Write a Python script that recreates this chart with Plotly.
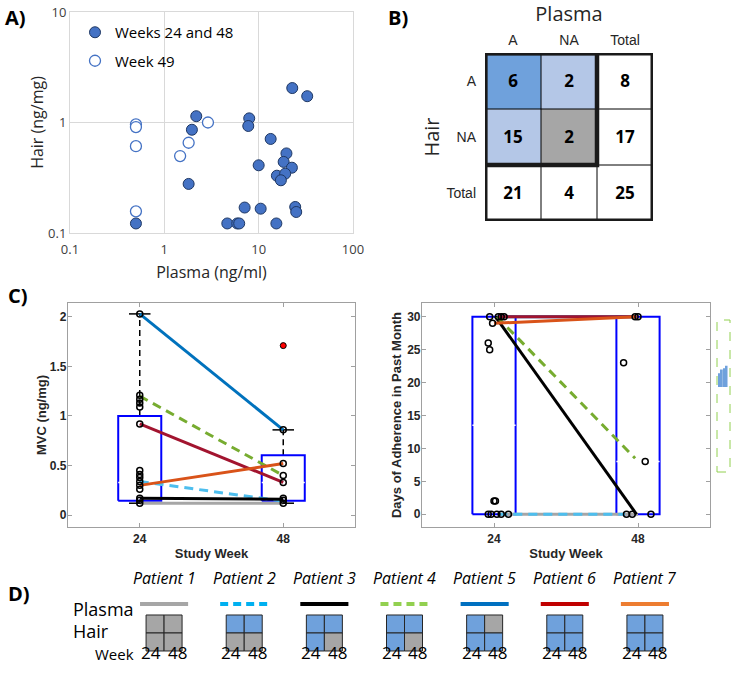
import plotly.graph_objects as go

W, H = 733, 673

# ---- A) plasma vs hair concentrations
plasma_wk24_48 = [22.7, 32.7, 2.18, 7.94, 7.76, 1.96, 13.4, 19.7, 18.4, 22.5, 10.0, 15.6,
                  19.1, 17.2, 1.81, 24.4, 25.0, 7.1, 10.5, 0.5, 4.65, 5.93, 6.22, 15.4]
hair_wk24_48 = [2.05, 1.73, 1.14, 1.09, 0.93, 0.86, 0.71, 0.525, 0.44, 0.39, 0.41, 0.33,
                0.344, 0.30, 0.278, 0.172, 0.155, 0.17, 0.166, 0.122, 0.122, 0.122, 0.122, 0.122]
plasma_wk49 = [0.5, 0.5, 0.5, 0.5, 2.9, 1.81, 1.47]
hair_wk49 = [0.96, 0.91, 0.61, 0.157, 1.0, 0.656, 0.497]
log_ticks = [0.1, 1, 10, 100]

# ---- B) adherence table (A = adherent, NA = non-adherent)
tbl_cols = ["A", "NA", "Total"]
tbl_rows = ["A", "NA", "Total"]
tbl_counts = [[6, 2, 8], [15, 2, 17], [21, 4, 25]]

# ---- C) MVC and days of adherence by study week
weeks = ["24", "48"]
mvc_wk24 = [2.03, 1.21, 1.17, 1.13, 1.09, 0.92, 0.45, 0.41, 0.38, 0.34, 0.30, 0.26, 0.17, 0.15, 0.12]
mvc_wk48 = [0.86, 0.52, 0.40, 0.33, 0.17, 0.15, 0.12]
mvc_outlier = [None, 1.71]
mvc_q1 = [0.145, 0.145]
mvc_med = [0.33, 0.33]
mvc_q3 = [1.0, 0.605]
mvc_lo = [0.12, 0.12]
mvc_hi = [2.03, 0.86]

days_wk24 = [30, 29, 26, 25, 2, 2, 0, 0, 0, 0, 0, 30, 30, 30]
days_jit24 = [-0.03, -0.01, -0.04, -0.03, 0.0, 0.01, -0.04, -0.02, 0.02, 0.05, 0.1, 0.03, 0.05, 0.07]
days_wk48 = [30, 30, 23, 8, 0, 0, 0]
days_jit48 = [-0.02, 0.0, -0.1, 0.05, -0.08, -0.04, 0.09]
days_q1 = [0, 0]
days_med = [13.5, 8]
days_q3 = [30, 30]

patients = ["Patient 1", "Patient 2", "Patient 3", "Patient 4", "Patient 5", "Patient 6", "Patient 7"]
mvc_pt24 = [0.12, 0.34, 0.17, 1.20, 2.03, 0.92, 0.30]
mvc_pt48 = [0.12, 0.14, 0.16, 0.40, 0.86, 0.33, 0.52]
days_pt24 = [0, 0, 30, 30, 30, 30, 29]
days_pt48 = [0, 0, 0, 8.5, 30, 30, 30]
days_ptx24 = [1.03, 1.03, 1.01, 1.02, 1.03, 1.03, 1.0]
days_ptx48 = [2.0, 1.91, 1.99, 1.98, 1.99, 1.99, 1.99]

# ---- D) adherence per patient, weeks 24 / 48
plasma_status = [["NA", "NA"], ["A", "A"], ["A", "A"], ["A", "A"], ["A", "NA"], ["A", "A"], ["A", "A"]]
hair_status = [["NA", "NA"], ["NA", "NA"], ["A", "NA"], ["A", "NA"], ["A", "A"], ["A", "A"], ["A", "A"]]

# small thumbnail at right edge
thumb_vals = [0.55, 0.7, 0.75, 0.85]

line_cols = ["#a6a6a6", "#4dbeee", "#000000", "#77ac30", "#0072bd", "#a2142f", "#d95319"]
swatch_cols = ["#a6a6a6", "#00b0f0", "#000000", "#92d050", "#0070c0", "#c00000", "#ed7d31"]
dashed = [False, True, False, True, False, False, False]
BLUE, LBLUE, GRAY = "#6fa1dc", "#b4c7e7", "#a6a6a6"
SANS = "Open Sans"
ARIAL = "Liberation Sans"


def px_x(a, b):
    return [a / W, b / W]


def px_y(top, bottom):
    return [1 - bottom / H, 1 - top / H]


fig = go.Figure()

# ===== A
fig.add_trace(go.Scatter(x=plasma_wk24_48, y=hair_wk24_48, mode="markers", name="Weeks 24 and 48",
                         legendgroup="a", xaxis="x", yaxis="y",
                         marker=dict(size=11, color="#4472c4", line=dict(color="#1f3864", width=1))))
fig.add_trace(go.Scatter(x=plasma_wk49, y=hair_wk49, mode="markers", name="Week 49",
                         legendgroup="b", xaxis="x", yaxis="y",
                         marker=dict(size=11, color="white", line=dict(color="#4472c4", width=1.3))))

# ===== B
def shade(r, c):
    if tbl_rows[r] == "Total" or tbl_cols[c] == "Total":
        return 0
    n_adh = (tbl_rows[r] == "A") + (tbl_cols[c] == "A")
    return {2: 2, 1: 1, 0: 3}[n_adh]


z = [[shade(r, c) for c in range(3)] for r in range(3)]
txt = [[str(v) for v in row] for row in tbl_counts]
fig.add_trace(go.Heatmap(z=z, x=[0, 1, 2], y=[0, 1, 2], text=txt, texttemplate="%{text}",
                         textfont=dict(family=SANS, size=17, color="black", weight="bold"),
                         colorscale=[[0, "white"], [1 / 3, LBLUE], [2 / 3, BLUE], [1, GRAY]],
                         zmin=0, zmax=3, showscale=False, hoverinfo="skip",
                         xaxis="x2", yaxis="y2"))
shapes = []
for k in [0.5, 1.5]:
    shapes.append(dict(type="line", xref="x2", yref="y2", x0=k, x1=k, y0=-0.5, y1=2.5,
                       line=dict(color="black", width=1)))
    shapes.append(dict(type="line", xref="x2", yref="y2", x0=-0.5, x1=2.5, y0=k, y1=k,
                       line=dict(color="black", width=1)))
shapes.append(dict(type="rect", xref="x2", yref="y2", x0=-0.5, x1=1.5, y0=-0.5, y1=1.5,
                   line=dict(color="#1a1a1a", width=4.5)))
shapes.append(dict(type="rect", xref="x2", yref="y2", x0=-0.5, x1=2.5, y0=-0.5, y1=2.5,
                   line=dict(color="#1a1a1a", width=5)))

# ===== C helpers
def add_box(ax, ay, pos, q1, med, q3, lo=None, hi=None, hw=0.15):
    xs = [pos - hw, pos + hw, pos + hw, pos - hw, pos - hw]
    ys = [q1, q1, q3, q3, q1]
    if lo is not None:
        for a, b in [(q3, hi), (lo, q1)]:
            fig.add_trace(go.Scatter(x=[pos, pos], y=[a, b], mode="lines", xaxis=ax, yaxis=ay,
                                     line=dict(color="black", width=1.5, dash="6px,4px"),
                                     showlegend=False, hoverinfo="skip"))
        for v in [lo, hi]:
            fig.add_trace(go.Scatter(x=[pos - hw / 2, pos + hw / 2], y=[v, v], mode="lines",
                                     xaxis=ax, yaxis=ay, line=dict(color="black", width=1.5),
                                     showlegend=False, hoverinfo="skip"))
    fig.add_trace(go.Scatter(x=xs, y=ys, mode="lines", xaxis=ax, yaxis=ay,
                             line=dict(color="#0000ff", width=2), showlegend=False, hoverinfo="skip"))
    fig.add_trace(go.Scatter(x=[pos - hw, pos + hw], y=[med, med], mode="lines", xaxis=ax, yaxis=ay,
                             line=dict(color="white", width=1.5), showlegend=False, hoverinfo="skip"))


circ = dict(symbol="circle-open", size=6, color="black", line=dict(width=1.5))

# C left
for i in range(2):
    add_box("x3", "y3", i + 1, mvc_q1[i], mvc_med[i], mvc_q3[i], mvc_lo[i], mvc_hi[i])
for p in range(7):
    fig.add_trace(go.Scatter(x=[1, 2], y=[mvc_pt24[p], mvc_pt48[p]], mode="lines", xaxis="x3", yaxis="y3",
                             line=dict(color=line_cols[p], width=3, dash="9px,6px" if dashed[p] else "solid"),
                             showlegend=False, hoverinfo="skip"))
fig.add_trace(go.Scatter(x=[1] * len(mvc_wk24) + [2] * len(mvc_wk48), y=mvc_wk24 + mvc_wk48,
                         mode="markers", marker=circ, xaxis="x3", yaxis="y3", showlegend=False))
fig.add_trace(go.Scatter(x=[1, 2], y=mvc_outlier, mode="markers", xaxis="x3", yaxis="y3", showlegend=False,
                         marker=dict(size=6, color="#ff0000", line=dict(color="black", width=1))))

# C right
for i in range(2):
    add_box("x4", "y4", i + 1, days_q1[i], days_med[i], days_q3[i])
for p in range(7):
    fig.add_trace(go.Scatter(x=[days_ptx24[p], days_ptx48[p]], y=[days_pt24[p], days_pt48[p]], mode="lines",
                             xaxis="x4", yaxis="y4",
                             line=dict(color=line_cols[p], width=3, dash="9px,6px" if dashed[p] else "solid"),
                             showlegend=False, hoverinfo="skip"))
fig.add_trace(go.Scatter(x=[1 + j for j in days_jit24] + [2 + j for j in days_jit48], y=days_wk24 + days_wk48,
                         mode="markers", marker=circ, xaxis="x4", yaxis="y4", showlegend=False))

# ===== D grids
px_per_unit = (685 - 124) / 7.0
off = 9 / px_per_unit
lab_off = 13 / px_per_unit
cx, cy, cc = [], [], []
for p in range(7):
    for row, status in [(1, plasma_status[p]), (0, hair_status[p])]:
        for k in range(2):
            cx.append(p + (off if k else -off))
            cy.append(row)
            cc.append(BLUE if status[k] == "A" else GRAY)
fig.add_trace(go.Scatter(x=cx, y=cy, mode="markers", xaxis="x5", yaxis="y5", showlegend=False,
                         hoverinfo="skip",
                         marker=dict(symbol="square", size=18, color=cc, line=dict(color="#262626", width=1))))
for p in range(7):
    fig.add_trace(go.Scatter(x=[p - 0.3, p + 0.3], y=[2.11, 2.11], mode="lines", xaxis="x5", yaxis="y5",
                             showlegend=False, hoverinfo="skip",
                             line=dict(color=swatch_cols[p], width=4, dash="8px,5px" if dashed[p] else "solid")))

# thumbnail
fig.add_trace(go.Bar(x=[0, 1, 2, 3], y=thumb_vals, xaxis="x6", yaxis="y6", showlegend=False,
                     marker=dict(color="#6fa1dc", line=dict(width=0)), hoverinfo="skip"))
shapes.append(dict(type="rect", xref="paper", yref="paper", x0=717 / W, x1=730 / W,
                   y0=1 - 472 / H, y1=1 - 320 / H, line=dict(color="#92d050", width=1, dash="dash")))

# ===== annotations
ann = []
for lab, x, y in [("A)", 3, 17), ("B)", 386, 17), ("C)", 6, 295), ("D)", 6, 593)]:
    ann.append(dict(text=lab, x=x / W, y=1 - y / H, xref="paper", yref="paper", xanchor="left",
                    yanchor="middle", showarrow=False, font=dict(family=SANS, size=20, color="black", weight="bold")))
for p in range(7):
    ann.append(dict(text="<i>" + patients[p] + "</i>", x=p, y=1 - 591 / H, xref="x5", yref="paper",
                    showarrow=False, font=dict(family=SANS, size=16, color="black")))
    for k in range(2):
        ann.append(dict(text=weeks[k], x=p + (lab_off if k else -lab_off), y=1 - 666 / H, xref="x5",
                        yref="paper", showarrow=False, font=dict(family=SANS, size=17, color="black")))
ann.append(dict(text="Plasma", x=71 / W, y=1 - 623 / H, xref="paper", yref="paper", xanchor="left",
                showarrow=False, font=dict(family=SANS, size=18, color="black")))
ann.append(dict(text="Hair", x=71 / W, y=1 - 645 / H, xref="paper", yref="paper", xanchor="left",
                showarrow=False, font=dict(family=SANS, size=18, color="black")))
ann.append(dict(text="Week", x=136 / W, y=1 - 666 / H, xref="paper", yref="paper", xanchor="right",
                showarrow=False, font=dict(family=SANS, size=15, color="black")))

ctick = dict(family=ARIAL, size=12, color="#262626", weight="bold")
cax = dict(showline=True, linecolor="#a0a0a0", linewidth=1.2, mirror="ticks", ticks="inside",
           ticklen=4, tickcolor="#a0a0a0", showgrid=False, zeroline=False, tickfont=ctick, automargin=False)
ctitle = dict(family=ARIAL, size=13, color="#262626", weight="bold")

fig.update_layout(
    width=W, height=H, margin=dict(l=0, r=0, t=0, b=0, autoexpand=False),
    paper_bgcolor="white", plot_bgcolor="white",
    font=dict(family=SANS, color="#262626"),
    shapes=shapes, annotations=ann,
    legend=dict(x=75 / W, y=1 - 16 / H, xanchor="left", yanchor="top", bgcolor="rgba(0,0,0,0)",
                font=dict(family=SANS, size=15, color="black"), traceorder="grouped", tracegroupgap=6),
    xaxis=dict(domain=px_x(70, 353), anchor="y", type="log", range=[-1, 2], tickvals=log_ticks,
               ticktext=["0.1", "1", "10", "100"], showgrid=True, gridcolor="#d9d9d9", showline=True,
               linecolor="#d9d9d9", mirror=True, zeroline=False, tickfont=dict(size=13, color="#404040"),
               automargin=False, ticklabelstandoff=4,
               title=dict(text="Plasma (ng/ml)", font=dict(size=16, color="#262626"), standoff=10)),
    yaxis=dict(domain=px_y(12, 233), anchor="x", type="log", range=[-1, 1], tickvals=log_ticks[:3],
               ticktext=["0.1", "1", "10"], showgrid=True, gridcolor="#d9d9d9", showline=True,
               linecolor="#d9d9d9", mirror=True, zeroline=False, tickfont=dict(size=13, color="#404040"),
               automargin=False,
               title=dict(text="Hair (ng/mg)", font=dict(size=16, color="#262626"), standoff=0)),
    xaxis2=dict(domain=px_x(485, 653), anchor="y2", range=[-0.5, 2.5], side="top", tickvals=[0, 1, 2],
                ticktext=tbl_cols, showgrid=False, zeroline=False, showline=False, ticks="",
                ticklabelstandoff=4, automargin=False,
                tickfont=dict(family=ARIAL, size=14, color="#262626"),
                title=dict(text="Plasma", font=dict(family=SANS, size=20, color="#262626"), standoff=6)),
    yaxis2=dict(domain=px_y(53, 221), anchor="x2", range=[2.5, -0.5], tickvals=[0, 1, 2], ticktext=tbl_rows,
                showgrid=False, zeroline=False, showline=False, ticks="", ticklabelstandoff=8,
                automargin=False, tickfont=dict(family=ARIAL, size=14, color="#262626"),
                title=dict(text="Hair", font=dict(family=SANS, size=20, color="#262626"), standoff=1)),
    xaxis3=dict(cax, domain=px_x(68, 355), anchor="y3", range=[0.5, 2.5], tickvals=[1, 2], ticktext=weeks,
                title=dict(text="Study Week", font=ctitle, standoff=4)),
    yaxis3=dict(cax, domain=px_y(303, 527), anchor="x3", range=[-0.12, 2.14], tickvals=[0, 0.5, 1, 1.5, 2],
                ticktext=["0", "0.5", "1", "1.5", "2"], ticklabelstandoff=-2,
                title=dict(text="MVC (ng/mg)", font=ctitle, standoff=0)),
    xaxis4=dict(cax, domain=px_x(422, 710), anchor="y4", range=[0.5, 2.5], tickvals=[1, 2], ticktext=weeks,
                title=dict(text="Study Week", font=ctitle, standoff=4)),
    yaxis4=dict(cax, domain=px_y(303, 527), anchor="x4", range=[-1.93, 32.08],
                tickvals=[0, 5, 10, 15, 20, 25, 30], ticklabelstandoff=-2,
                title=dict(text="Days of Adherence in Past Month", font=ctitle, standoff=2)),
    xaxis5=dict(domain=px_x(124, 685), anchor="y5", range=[-0.5, 6.5], visible=False),
    yaxis5=dict(domain=px_y(598, 672), anchor="x5", range=[-1.667, 2.444], visible=False),
    xaxis6=dict(domain=px_x(718, 728), anchor="y6", range=[-0.6, 3.6], visible=False),
    yaxis6=dict(domain=px_y(362, 387), anchor="x6", range=[0, 1], visible=False),
)

fig.write_html("out.html", config={"displayModeBar": False},
               post_script="document.body.style.margin='0px';")
